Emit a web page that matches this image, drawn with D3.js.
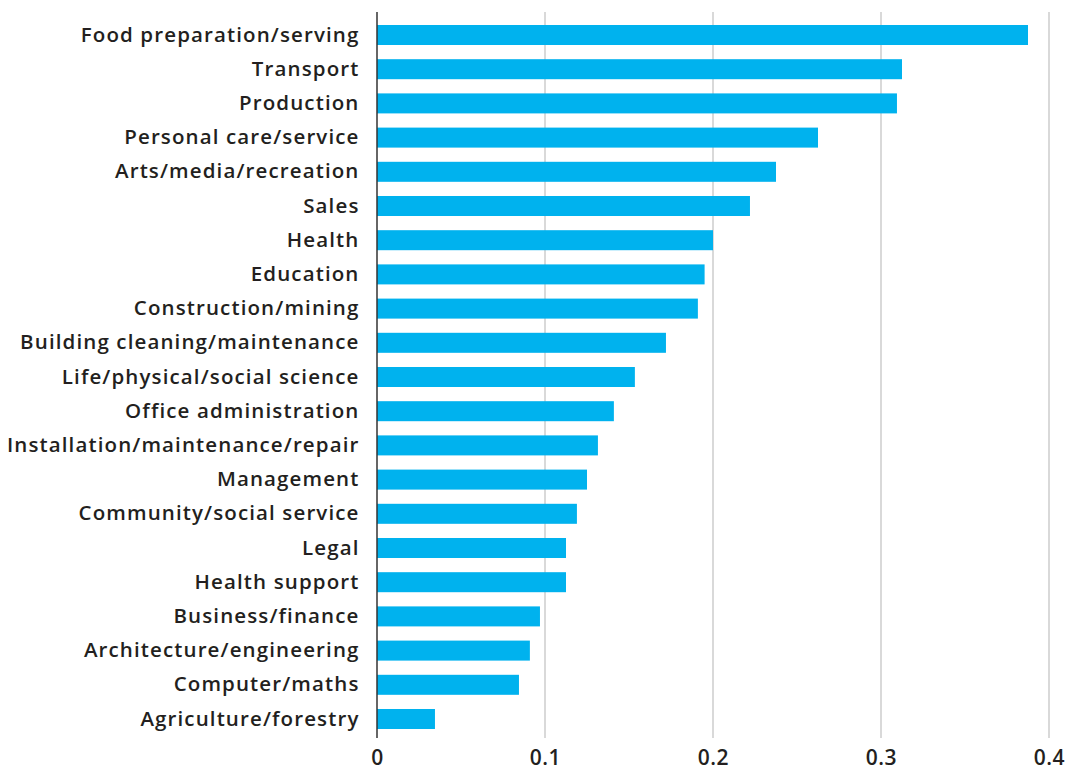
<!DOCTYPE html>
<html>
<head>
<meta charset="utf-8">
<script src="https://cdn.jsdelivr.net/npm/d3@7"></script>
<style>
  html, body { margin: 0; padding: 0; background: #fff; }
  svg { display: block; }
</style>
</head>
<body>
<svg id="chart" width="1069" height="771"></svg>
<script>
const categories = [
  "Food preparation/serving", "Transport", "Production", "Personal care/service",
  "Arts/media/recreation", "Sales", "Health", "Education", "Construction/mining",
  "Building cleaning/maintenance", "Life/physical/social science", "Office administration",
  "Installation/maintenance/repair", "Management", "Community/social service", "Legal",
  "Health support", "Business/finance", "Architecture/engineering", "Computer/maths",
  "Agriculture/forestry"
];
const values = [
  0.3875, 0.3125, 0.3095, 0.2625, 0.2375, 0.222, 0.200, 0.195, 0.191,
  0.172, 0.1535, 0.141, 0.1315, 0.125, 0.119, 0.1125,
  0.1125, 0.097, 0.091, 0.0845, 0.0345
];
const tickValues = [0, 0.1, 0.2, 0.3, 0.4];
const tickLabels = ["0", "0.1", "0.2", "0.3", "0.4"];

const svg = d3.select("#chart");
const x = d3.scaleLinear().domain([0, 0.4]).range([377, 1049]);
const y = d3.scaleBand().domain(categories).range([17.9, 736.1])
  .paddingInner(0.415).paddingOuter(0.2075);

const font = "'Open Sans', Lato, sans-serif";

// gridlines
svg.append("g").selectAll("line").data(tickValues.slice(1)).join("line")
  .attr("x1", d => x(d)).attr("x2", d => x(d))
  .attr("y1", 12).attr("y2", 738)
  .attr("stroke", "#d9d9d9").attr("stroke-width", 2);

// bars
svg.append("g").selectAll("rect").data(values).join("rect")
  .attr("x", x(0))
  .attr("y", (d, i) => y(categories[i]))
  .attr("width", d => x(d) - x(0))
  .attr("height", y.bandwidth())
  .attr("fill", "#00b2ee");

// axis line
svg.append("line")
  .attr("x1", x(0)).attr("x2", x(0)).attr("y1", 12).attr("y2", 738)
  .attr("stroke", "#333").attr("stroke-width", 1.5);

// y labels
const yAxis = d3.axisLeft(y).tickSize(0).tickPadding(17.5);
const gy = svg.append("g").attr("transform", `translate(${x(0)},0)`).call(yAxis);
gy.select(".domain").remove();
gy.selectAll("text")
  .attr("font-family", font).attr("font-size", 20.5).attr("font-weight", 600)
  .attr("letter-spacing", "1.12px")
  .attr("fill", "#231f20");

// x axis labels
const xAxis = d3.axisBottom(x).tickValues(tickValues)
  .tickFormat((d, i) => tickLabels[i]).tickSize(0).tickPadding(0);
const gx = svg.append("g").attr("transform", `translate(0,750)`).call(xAxis);
gx.select(".domain").remove();
gx.selectAll("text")
  .attr("font-family", font).attr("font-size", 21).attr("font-weight", 600)
  .attr("letter-spacing", "0.5px")
  .attr("fill", "#231f20");
</script>
</body>
</html>
